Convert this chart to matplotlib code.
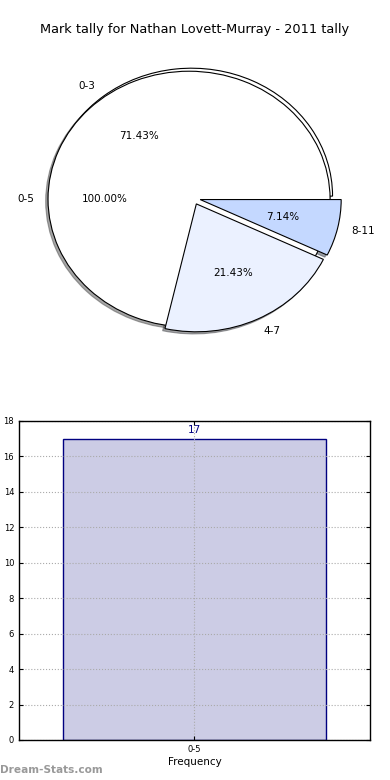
import matplotlib
matplotlib.use("Agg")
import matplotlib.pyplot as plt
import matplotlib.patches as mpatches

# ---- data ----
title = "Mark tally for Nathan Lovett-Murray - 2011 tally"
outer_labels = ["0-5"]
outer_values = [17]
inner_labels = ["0-3", "4-7", "8-11"]
inner_values = [10, 3, 1]
inner_colors = ["white", "#ebf1ff", "#c4d8ff"]
bar_categories = ["0-5"]
bar_values = [17]
bar_yticks = [0, 2, 4, 6, 8, 10, 12, 14, 16, 18]

plt.rcParams['font.family'] = ['DejaVu Sans']

fig = plt.figure(figsize=(3.9, 7.8), dpi=100)

# shadow offset: small (Shadow scales by dpi/72)
sh = {'ox': -0.012, 'oy': -0.012}

# ---- pie ----
axp = fig.add_axes([0.0436, 0.541, 0.904, 0.410])
wa, ta, pa = axp.pie(outer_values, labels=outer_labels, colors=["white"],
                     autopct='%1.2f%%', startangle=0, center=(-0.03, -0.008),
                     shadow=sh,
                     wedgeprops=dict(edgecolor='black', linewidth=0.8),
                     textprops=dict(fontsize=7.5))
wb, tb, pb = axp.pie(inner_values, labels=inner_labels, colors=inner_colors,
                     autopct='%1.2f%%', startangle=0, explode=[0.02, 0.05, 0.05],
                     shadow=sh,
                     wedgeprops=dict(edgecolor='black', linewidth=0.8),
                     textprops=dict(fontsize=7.5))
for p in axp.patches:
    if isinstance(p, mpatches.Shadow):
        p.set_zorder(0.2)
wb[0].set_zorder(0.5)
wa[0].set_zorder(1.0)
wb[1].set_zorder(2.0)
wb[2].set_zorder(2.1)
for t in list(ta) + list(pa) + list(tb) + list(pb):
    t.set_zorder(5)
axp.set_aspect('auto')
axp.set_xlim(-1.25, 1.25)
axp.set_ylim(-1.25, 1.25)
axp.set_frame_on(False)
axp.set_xticks([])
axp.set_yticks([])

fig.text(0.5, 1 - 30 / 780, title, ha='center', va='center', fontsize=9.3)

# ---- bar ----
axb = fig.add_axes([0.0487, 0.0513, 0.9, 0.409])
bars = axb.bar(bar_categories, bar_values, width=0.8,
               facecolor=(0, 0, 0.5, 0.2), edgecolor='navy', linewidth=1.0)
for rect, v in zip(bars, bar_values):
    axb.annotate(str(v), (rect.get_x() + rect.get_width() / 2, rect.get_height()),
                 xytext=(0, 2.5), textcoords='offset points', ha='center', va='bottom',
                 fontsize=7.5, color='navy')
axb.set_xlim(-0.532, 0.532)
axb.set_ylim(0, 18)
axb.set_yticks(bar_yticks)
axb.grid(True, linestyle=':', color='#aaaaaa', linewidth=0.8)
axb.tick_params(direction='in', right=True, top=True, labelsize=6, length=3)
axb.set_xlabel("Frequency", fontsize=7.5, labelpad=2)
axb.set_ylabel("Stat Interval", fontsize=7.5)
axb.yaxis.set_label_coords(-0.045, 0.5)
for s in axb.spines.values():
    s.set_linewidth(1.0)

fig.text(0.0, 1 - 770 / 780, "Dream-Stats.com", ha='left', va='center',
         fontsize=7.6, fontweight='bold', color='#999999')

fig.savefig("out.png", dpi=100)
